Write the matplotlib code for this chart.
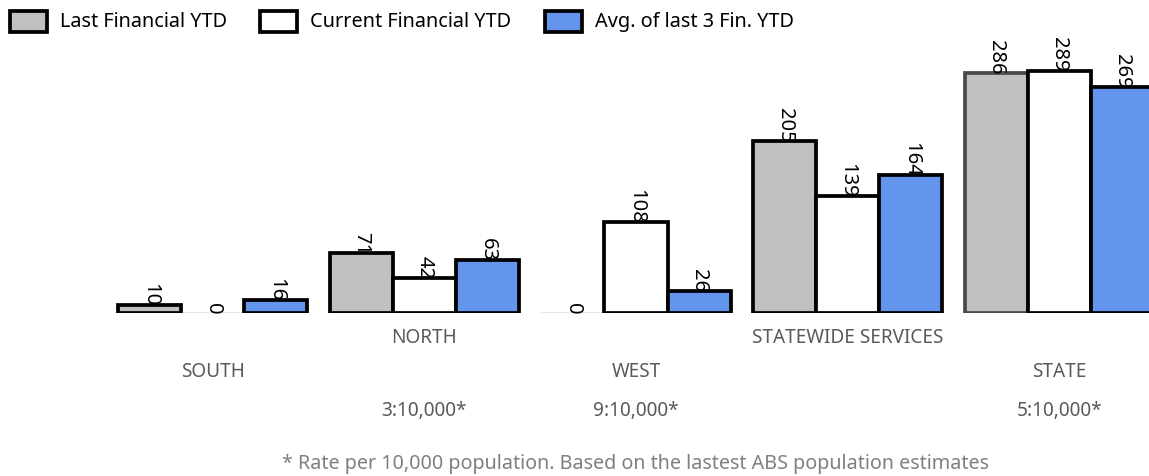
import numpy as np
import matplotlib.pyplot as plt

plt.rcParams['font.family'] = ['Noto Sans', 'DejaVu Sans']

regions = ["SOUTH", "NORTH", "WEST", "STATEWIDE SERVICES", "STATE"]
last_fin = [10, 71, 0, 205, 286]
current_fin = [0, 42, 108, 139, 289]
avg_last3 = [16, 63, 26, 164, 269]
rates = ["", "3:10,000*", "9:10,000*", "", "5:10,000*"]

series = [
    ("Last Financial YTD", last_fin, "#c0c0c0"),
    ("Current Financial YTD", current_fin, "#ffffff"),
    ("Avg. of last 3 Fin. YTD", avg_last3, "#6495ed"),
]

fig = plt.figure(figsize=(11.49, 4.76), dpi=100)
W, H = 1149, 476
# axes runs past the right edge of the figure, the last group gets clipped
ax = fig.add_axes([107 / W, (H - 313) / H, 1058 / W, 251.7 / H])

x = np.arange(len(regions))
bw = 0.298
for k, (name, vals, col) in enumerate(series):
    pos = x + (k - 1) * bw
    for i, (p, v) in enumerate(zip(pos, vals)):
        if v == 0:
            ax.bar(p, v, bw, color=col, edgecolor="#808080", linewidth=1.0)
        else:
            ec = "#4a4a4a" if (k == 0 and i == len(vals) - 1) else "black"
            ax.bar(p, v, bw, color=col, edgecolor=ec, linewidth=2.7)
        ax.annotate(str(v), xy=(p, v), xytext=(0, -1), textcoords="offset points",
                    rotation=270, ha="center", va="bottom", fontsize=14.5,
                    color="black", clip_on=False)

ax.set_xlim(-0.5, len(regions) - 0.5)
ax.set_ylim(0, 300)
ax.axis("off")

# staggered region names and the population rates underneath
for i, r in enumerate(regions):
    off = 18.2 if i % 2 == 1 else 42.6
    ax.annotate(r, xy=(i, 0), xycoords=("data", "axes fraction"),
                xytext=(0, -off), textcoords="offset points",
                ha="center", va="center", fontsize=13.7, color="#5a5a5a")
    if rates[i]:
        ax.annotate(rates[i], xy=(i, 0), xycoords=("data", "axes fraction"),
                    xytext=(0, -70.3), textcoords="offset points",
                    ha="center", va="center", fontsize=13.7, color="#5a5a5a")

ax.annotate("* Rate per 10,000 population. Based on the lastest ABS population estimates",
            xy=(0.5, 0), xycoords="axes fraction", xytext=(0, -108.5),
            textcoords="offset points", ha="center", va="center",
            fontsize=14.2, color="#808080")

# legend drawn by hand along the top
legend_x = [10, 260, 545]
for lx, (name, vals, col) in zip(legend_x, series):
    fig.patches.append(plt.Rectangle((lx / W, 1 - 32 / H), 37 / W, 21 / H,
                                     transform=fig.transFigure, facecolor=col,
                                     edgecolor="black", linewidth=2.7))
    fig.text((lx + 50) / W, 1 - 22 / H, name, ha="left", va="center",
             fontsize=14.3, color="black")

fig.savefig("out.png", dpi=100)
